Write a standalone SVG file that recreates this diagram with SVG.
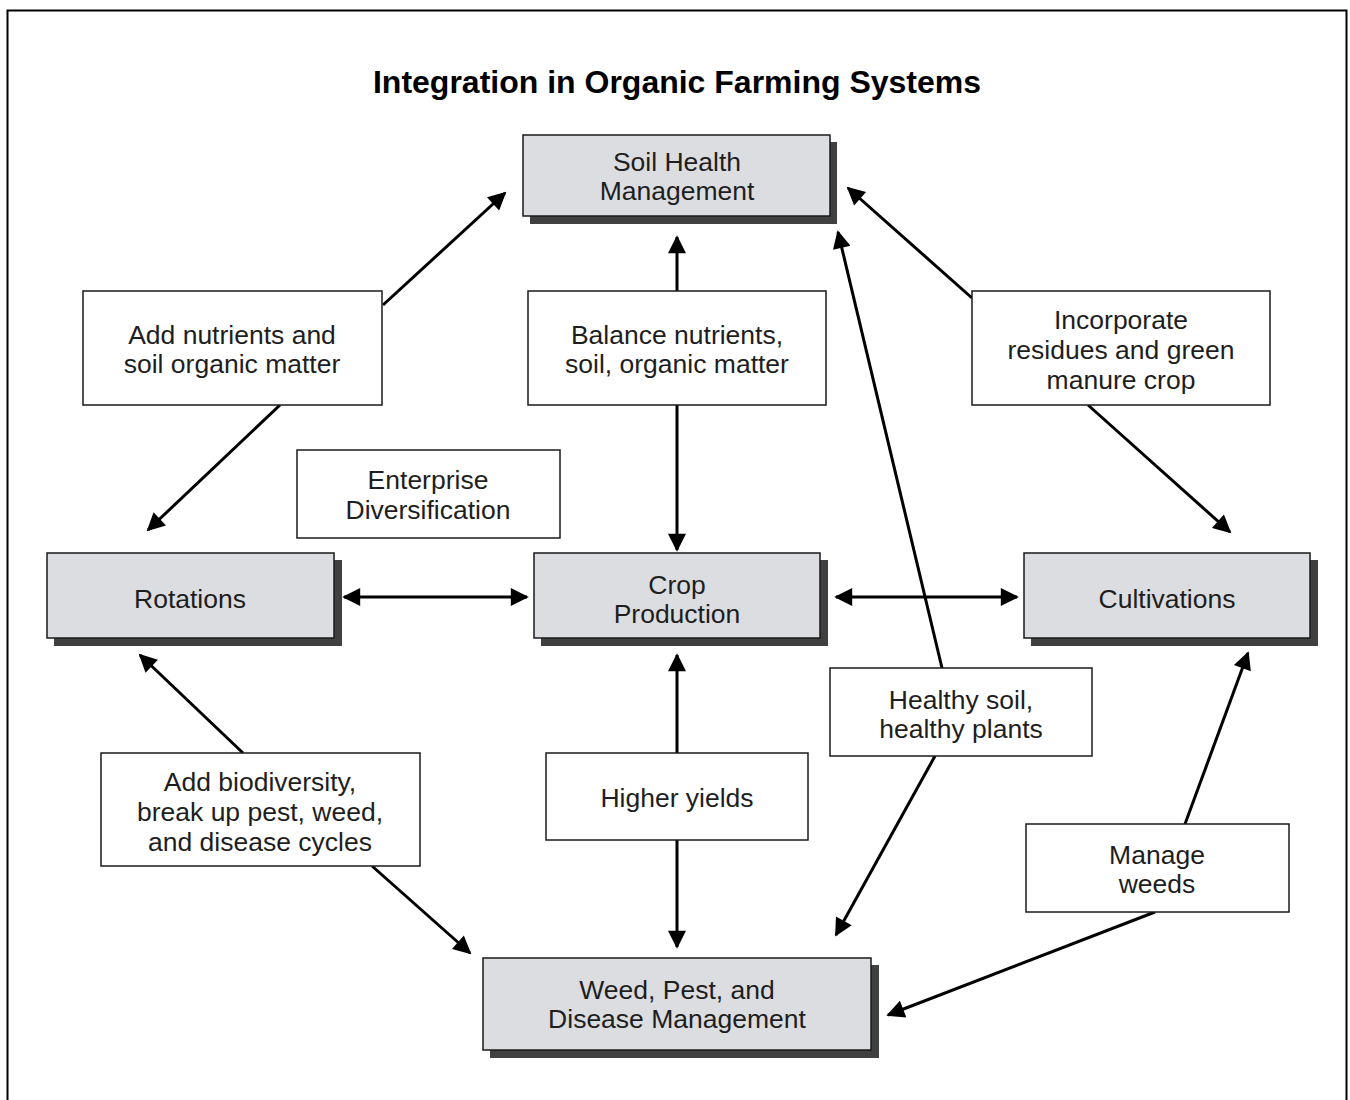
<svg xmlns="http://www.w3.org/2000/svg" width="1350" height="1100" viewBox="0 0 1350 1100">
<style>
.t{font-family:"Liberation Sans",Arial,sans-serif;font-size:26.5px;fill:#1e1e1e;text-anchor:middle}
.title{font-family:"Liberation Sans",Arial,sans-serif;font-size:32px;font-weight:bold;fill:#000;text-anchor:middle}
.g{fill:#dcdde0;stroke:#1a1a1a;stroke-width:1.5}
.sh{fill:#404040}
.w{fill:#fff;stroke:#1a1a1a;stroke-width:1.5}
.c{stroke:#000;stroke-width:3;fill:none;marker-end:url(#ah)}
.cb{stroke:#000;stroke-width:3;fill:none;marker-end:url(#ah);marker-start:url(#as)}
</style>
<defs>
<marker id="ah" viewBox="0 0 10 10" refX="9" refY="5" markerWidth="7.5" markerHeight="6" markerUnits="strokeWidth" orient="auto"><path d="M0,0 L10,5 L0,10 z" fill="#000"/></marker>
<marker id="as" viewBox="0 0 10 10" refX="1" refY="5" markerWidth="7.5" markerHeight="6" markerUnits="strokeWidth" orient="auto"><path d="M10,0 L0,5 L10,10 z" fill="#000"/></marker>
</defs>
<rect x="0" y="0" width="1350" height="1100" fill="#fff"/>
<rect x="7.5" y="10.5" width="1339" height="1100" fill="none" stroke="#000" stroke-width="2"/>
<text class="title" x="677" y="93">Integration in Organic Farming Systems</text>

<g id="connectors">
<line class="c" x1="383" y1="305" x2="505" y2="193"/>
<line class="c" x1="280" y1="405" x2="148" y2="530"/>
<line class="c" x1="677" y1="291" x2="677" y2="237"/>
<line class="c" x1="677" y1="405" x2="677" y2="550"/>
<line class="c" x1="972" y1="298" x2="848" y2="188"/>
<line class="c" x1="1088" y1="405" x2="1230" y2="532"/>
<line class="cb" x1="344" y1="597" x2="527" y2="597"/>
<line class="cb" x1="836" y1="597" x2="1017" y2="597"/>
<line class="c" x1="942" y1="668" x2="838" y2="232"/>
<line class="c" x1="935" y1="756" x2="836" y2="935"/>
<line class="c" x1="243" y1="753" x2="140" y2="655"/>
<line class="c" x1="372" y1="866" x2="470" y2="953"/>
<line class="c" x1="677" y1="753" x2="677" y2="655"/>
<line class="c" x1="677" y1="840" x2="677" y2="947"/>
<line class="c" x1="1185" y1="824" x2="1248" y2="653"/>
<line class="c" x1="1155" y1="912" x2="888" y2="1015"/>
</g>

<g id="soil">
<rect class="sh" x="530" y="142" width="307" height="82"/>
<rect class="g" x="523" y="135" width="307" height="81"/>
<text class="t" x="677" y="171">Soil Health</text>
<text class="t" x="677" y="200">Management</text>
</g>
<g id="rotations">
<rect class="sh" x="54" y="560" width="288" height="86"/>
<rect class="g" x="47" y="553" width="287" height="85"/>
<text class="t" x="190" y="608">Rotations</text>
</g>
<g id="crop">
<rect class="sh" x="541" y="560" width="287" height="86"/>
<rect class="g" x="534" y="553" width="286" height="85"/>
<text class="t" x="677" y="594">Crop</text>
<text class="t" x="677" y="623">Production</text>
</g>
<g id="cultivations">
<rect class="sh" x="1031" y="560" width="287" height="86"/>
<rect class="g" x="1024" y="553" width="286" height="85"/>
<text class="t" x="1167" y="608">Cultivations</text>
</g>
<g id="weed">
<rect class="sh" x="490" y="965" width="389" height="93"/>
<rect class="g" x="483" y="958" width="388" height="92"/>
<text class="t" x="677" y="999">Weed, Pest, and</text>
<text class="t" x="677" y="1028">Disease Management</text>
</g>

<g id="addnutrients">
<rect class="w" x="83" y="291" width="299" height="114"/>
<text class="t" x="232" y="344">Add nutrients and</text>
<text class="t" x="232" y="373">soil organic matter</text>
</g>
<g id="balance">
<rect class="w" x="528" y="291" width="298" height="114"/>
<text class="t" x="677" y="344">Balance nutrients,</text>
<text class="t" x="677" y="373">soil, organic matter</text>
</g>
<g id="incorporate">
<rect class="w" x="972" y="291" width="298" height="114"/>
<text class="t" x="1121" y="329">Incorporate</text>
<text class="t" x="1121" y="359">residues and green</text>
<text class="t" x="1121" y="389">manure crop</text>
</g>
<g id="enterprise">
<rect class="w" x="297" y="450" width="263" height="88"/>
<text class="t" x="428" y="489">Enterprise</text>
<text class="t" x="428" y="519">Diversification</text>
</g>
<g id="healthy">
<rect class="w" x="830" y="668" width="262" height="88"/>
<text class="t" x="961" y="709">Healthy soil,</text>
<text class="t" x="961" y="738">healthy plants</text>
</g>
<g id="biodiversity">
<rect class="w" x="101" y="753" width="319" height="113"/>
<text class="t" x="260" y="791">Add biodiversity,</text>
<text class="t" x="260" y="821">break up pest, weed,</text>
<text class="t" x="260" y="851">and disease cycles</text>
</g>
<g id="yields">
<rect class="w" x="546" y="753" width="262" height="87"/>
<text class="t" x="677" y="807">Higher yields</text>
</g>
<g id="manageweeds">
<rect class="w" x="1026" y="824" width="263" height="88"/>
<text class="t" x="1157" y="864">Manage</text>
<text class="t" x="1157" y="893">weeds</text>
</g>
</svg>
